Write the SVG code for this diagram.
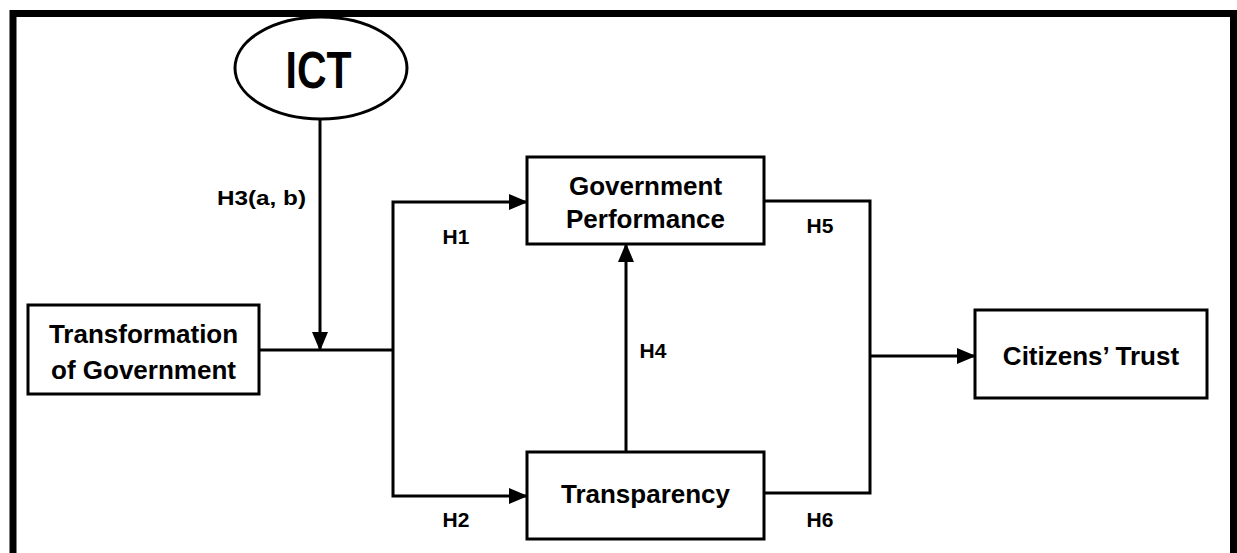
<svg xmlns="http://www.w3.org/2000/svg" width="1237" height="553" viewBox="0 0 1237 553">
<style>
.box{fill:#fff;stroke:#000;stroke-width:3}
.lbl{font-family:"Liberation Sans",Arial,sans-serif;font-weight:bold;font-size:26px;text-anchor:middle;fill:#000}
.h{font-family:"Liberation Sans",Arial,sans-serif;font-weight:bold;font-size:21px;text-anchor:middle;fill:#000}
.con{fill:none;stroke:#000;stroke-width:3}
</style>
<defs>
<marker id="arr" markerUnits="userSpaceOnUse" markerWidth="19" markerHeight="16" refX="18" refY="8" orient="auto">
<path d="M0,0 L19,8 L0,16 z" fill="#000"/>
</marker>
</defs>
<rect width="1237" height="553" fill="#fff"/>
<path d="M13,560 V13.5 H1233.5 V560" fill="none" stroke="#000" stroke-width="7"/>
<g id="connectors">
<path class="con" d="M320,119 V350" marker-end="url(#arr)"/>
<path class="con" d="M259,350 H393"/>
<path class="con" d="M393,350 V202 H527" marker-end="url(#arr)"/>
<path class="con" d="M393,350 V496 H527" marker-end="url(#arr)"/>
<path class="con" d="M626,452 V244" marker-end="url(#arr)"/>
<path class="con" d="M764,201 H870 V493 H764"/>
<path class="con" d="M870,356 H975" marker-end="url(#arr)"/>
<text class="h" x="261.5" y="205" textLength="89" lengthAdjust="spacingAndGlyphs">H3(a, b)</text>
<text class="h" x="456" y="244">H1</text>
<text class="h" x="456" y="527">H2</text>
<text class="h" x="653" y="358">H4</text>
<text class="h" x="820" y="233">H5</text>
<text class="h" x="820" y="527">H6</text>
</g>
<g id="ict">
<ellipse cx="321" cy="68" rx="86" ry="51" fill="#fff" stroke="#000" stroke-width="3"/>
<text class="lbl" x="318.5" y="88" style="font-size:52px" textLength="66" lengthAdjust="spacingAndGlyphs">ICT</text>
</g>
<g id="transformation">
<rect class="box" x="28" y="305" width="231" height="89"/>
<text class="lbl" x="143.5" y="343">Transformation</text>
<text class="lbl" x="143.5" y="379">of Government</text>
</g>
<g id="performance">
<rect class="box" x="527" y="157" width="237" height="87"/>
<text class="lbl" x="645.5" y="195">Government</text>
<text class="lbl" x="645.5" y="228">Performance</text>
</g>
<g id="transparency">
<rect class="box" x="527" y="452" width="237" height="87"/>
<text class="lbl" x="645.5" y="503">Transparency</text>
</g>
<g id="trust">
<rect class="box" x="975" y="310" width="232" height="88"/>
<text class="lbl" x="1091" y="365">Citizens’ Trust</text>
</g>
</svg>
